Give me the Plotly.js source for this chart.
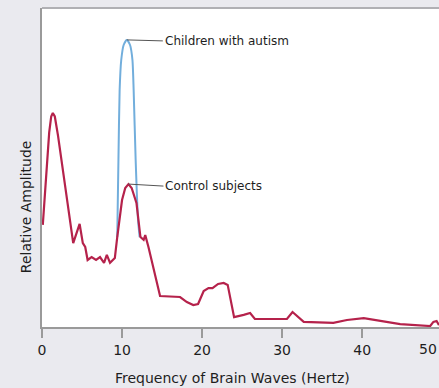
<!DOCTYPE html>
<html>
<head>
<meta charset="utf-8">
<script src="https://cdn.plot.ly/plotly-3.0.1.min.js"></script>
<style>html,body{margin:0;padding:0;background:#eaeaef;}</style>
</head>
<body>
<div id="chart" style="width:439px;height:388px;"></div>
<script>
// Frequency of brain waves (Hz)
const controlFreq = [0.1, 0.9, 1.15, 1.35, 1.6, 2.0, 3.9, 4.7, 5.1, 5.4, 5.7, 6.2, 6.75, 7.25, 7.75, 8.1, 8.5, 9.1, 9.4, 10.0, 10.4, 10.8, 11.2, 11.8, 12.3, 12.7, 12.9, 13.3, 14.75, 17.25, 18.1, 18.9, 19.5, 20.2, 20.8, 21.3, 22.0, 22.7, 23.2, 24.0, 25.2, 26.0, 26.6, 30.6, 31.3, 32.0, 32.7, 36.4, 38.1, 40.2, 42.25, 44.75, 48.5, 48.9, 49.3, 49.6];
// Relative amplitude (control subjects)
const controlAmp = [32.0, 61.0, 66.0, 67.1, 66.0, 60.0, 26.3, 32.3, 26.3, 25.1, 21.0, 21.9, 21.0, 21.9, 20.1, 22.6, 20.1, 21.6, 28.2, 39.8, 43.6, 44.8, 43.6, 38.9, 28.2, 27.3, 28.8, 25.1, 9.7, 9.4, 7.8, 6.9, 7.2, 11.3, 12.2, 12.2, 13.5, 13.8, 13.2, 3.1, 3.8, 4.4, 2.5, 2.5, 4.7, 3.1, 1.6, 1.3, 2.2, 2.8, 1.9, 0.9, 0.3, 1.6, 1.9, 0.6];
// Children with autism (differs around the 10 Hz peak)
const autismFreq = [9.4, 9.55, 9.7, 9.9, 10.2, 10.6, 11.0, 11.3, 11.45, 11.7, 12.0, 12.2];
const autismAmp = [28.2, 52.4, 74.3, 83.7, 88.4, 90.0, 88.4, 83.7, 74.3, 52.4, 33.5, 28.2];
const tickVals = [0, 10, 20, 30, 40];
const tickText = ['0', '10', '20', '30', '40'];
const lastTickText = '50';
const labelAutism = 'Children with autism';
const labelControl = 'Control subjects';
const xTitle = 'Frequency of Brain Waves (Hertz)';
const yTitle = 'Relative Amplitude';

const txtFont = {family: 'DejaVu Sans, sans-serif', size: 12, color: '#1e1e1e'};
const tickFont = {family: 'DejaVu Sans, sans-serif', size: 14, color: '#1e1e1e'};

const data = [
  {x: autismFreq, y: autismAmp, type: 'scatter', mode: 'lines',
   line: {color: '#72aedc', width: 2, shape: 'spline', smoothing: 0.6}, hoverinfo: 'skip'},
  {x: controlFreq, y: controlAmp, type: 'scatter', mode: 'lines',
   line: {color: '#b5224b', width: 2.2}, hoverinfo: 'skip'}
];

const layout = {
  width: 439, height: 388,
  margin: {l: 42, r: 0, t: 8, b: 61},
  paper_bgcolor: '#eaeaef',
  plot_bgcolor: '#ffffff',
  showlegend: false,
  xaxis: {
    range: [0, 49.6], showgrid: false, zeroline: false,
    showline: true, linecolor: '#9a9a9a', linewidth: 2,
    ticks: 'outside', ticklen: 9, tickwidth: 2, tickcolor: '#9a9a9a',
    tickvals: tickVals, ticktext: tickText,
    tickfont: tickFont
  },
  yaxis: {
    range: [0, 100], showgrid: false, zeroline: false,
    showline: true, linecolor: '#9a9a9a', linewidth: 2,
    showticklabels: false, ticks: ''
  },
  shapes: [
    {type: 'line', xref: 'paper', yref: 'paper', x0: 0, x1: 1, y0: 1, y1: 1,
     line: {color: '#b0b0b4', width: 2}}
  ],
  annotations: [
    {x: autismFreq[5], y: autismAmp[5], xref: 'x', yref: 'y', text: labelAutism,
     showarrow: true, arrowhead: 0, arrowwidth: 1, arrowcolor: '#555',
     ax: 36, ay: 1, xanchor: 'left', yanchor: 'middle', font: txtFont},
    {x: controlFreq[21], y: controlAmp[21], xref: 'x', yref: 'y', text: labelControl,
     showarrow: true, arrowhead: 0, arrowwidth: 1, arrowcolor: '#555',
     ax: 35, ay: 2, xanchor: 'left', yanchor: 'middle', font: txtFont},
    {x: 1.0, y: -0.068, xref: 'paper', yref: 'paper', text: lastTickText, showarrow: false,
     xanchor: 'right', yanchor: 'middle', font: tickFont},
    {x: 0.481, y: -0.16, xref: 'paper', yref: 'paper', text: xTitle, showarrow: false,
     xanchor: 'center', yanchor: 'middle',
     font: {family: 'DejaVu Sans, sans-serif', size: 14, color: '#1e1e1e'}},
    {x: -0.040, y: 0.376, xref: 'paper', yref: 'paper', text: yTitle, showarrow: false,
     textangle: -90, xanchor: 'center', yanchor: 'middle',
     font: {family: 'DejaVu Sans, sans-serif', size: 14, color: '#1e1e1e'}}
  ]
};

Plotly.newPlot('chart', data, layout, {displayModeBar: false, staticPlot: true});
</script>
</body>
</html>
